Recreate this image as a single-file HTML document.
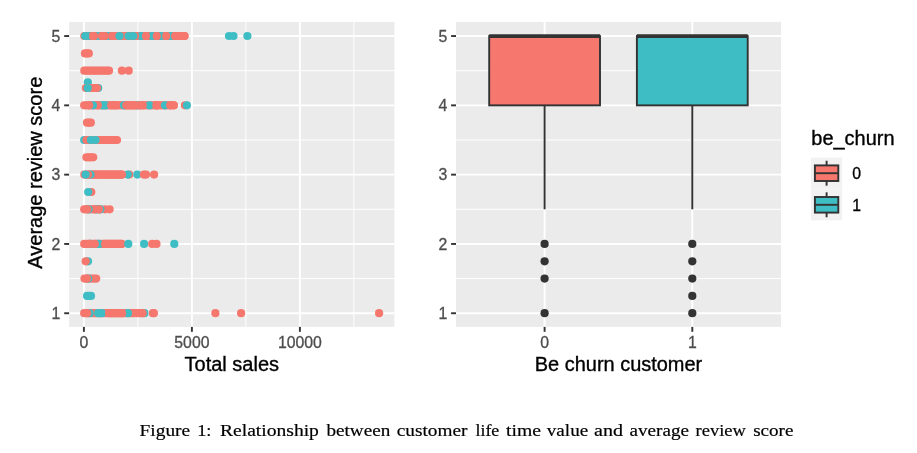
<!DOCTYPE html>
<html><head><meta charset="utf-8"><title>Figure 1</title>
<style>
html,body{margin:0;padding:0;background:#fff;}
svg{display:block}
text{font-family:"Liberation Sans",sans-serif;}
.tk{font-size:15.8px;fill:#4D4D4D;stroke:#4D4D4D;stroke-width:0.3px}
.ti{font-size:20px;fill:#000;stroke:#000;stroke-width:0.35px}
.lb{font-size:15.8px;fill:#000;stroke:#000;stroke-width:0.3px}
.cap{font-family:"Liberation Serif",serif;font-size:17.7px;fill:#000;stroke:#000;stroke-width:0.2px}
</style></head><body>
<svg width="917" height="453" viewBox="0 0 917 453">
<rect width="917" height="453" fill="#fff"/>
<g id="panel1">
<rect x="69.1" y="21.9" width="325.29999999999995" height="305.0" fill="#EBEBEB"/>
<line x1="69.1" x2="394.4" y1="278.60" y2="278.60" stroke="#fff" stroke-width="0.96"/>
<line x1="69.1" x2="394.4" y1="209.30" y2="209.30" stroke="#fff" stroke-width="0.96"/>
<line x1="69.1" x2="394.4" y1="140.00" y2="140.00" stroke="#fff" stroke-width="0.96"/>
<line x1="69.1" x2="394.4" y1="70.70" y2="70.70" stroke="#fff" stroke-width="0.96"/>
<line y1="21.9" y2="326.9" x1="137.9" x2="137.9" stroke="#fff" stroke-width="0.96"/>
<line y1="21.9" y2="326.9" x1="245.9" x2="245.9" stroke="#fff" stroke-width="0.96"/>
<line y1="21.9" y2="326.9" x1="353.9" x2="353.9" stroke="#fff" stroke-width="0.96"/>
<line x1="69.1" x2="394.4" y1="313.25" y2="313.25" stroke="#fff" stroke-width="1.92"/>
<line x1="69.1" x2="394.4" y1="243.95" y2="243.95" stroke="#fff" stroke-width="1.92"/>
<line x1="69.1" x2="394.4" y1="174.65" y2="174.65" stroke="#fff" stroke-width="1.92"/>
<line x1="69.1" x2="394.4" y1="105.35" y2="105.35" stroke="#fff" stroke-width="1.92"/>
<line x1="69.1" x2="394.4" y1="36.05" y2="36.05" stroke="#fff" stroke-width="1.92"/>
<line y1="21.9" y2="326.9" x1="83.9" x2="83.9" stroke="#fff" stroke-width="1.92"/>
<line y1="21.9" y2="326.9" x1="191.9" x2="191.9" stroke="#fff" stroke-width="1.92"/>
<line y1="21.9" y2="326.9" x1="299.9" x2="299.9" stroke="#fff" stroke-width="1.92"/>
<line x1="64.19999999999999" x2="69.1" y1="313.25" y2="313.25" stroke="#333" stroke-width="1.92"/>
<text x="60.3" y="318.95" text-anchor="end" class="tk">1</text>
<line x1="64.19999999999999" x2="69.1" y1="243.95" y2="243.95" stroke="#333" stroke-width="1.92"/>
<text x="60.3" y="249.65" text-anchor="end" class="tk">2</text>
<line x1="64.19999999999999" x2="69.1" y1="174.65" y2="174.65" stroke="#333" stroke-width="1.92"/>
<text x="60.3" y="180.35" text-anchor="end" class="tk">3</text>
<line x1="64.19999999999999" x2="69.1" y1="105.35" y2="105.35" stroke="#333" stroke-width="1.92"/>
<text x="60.3" y="111.05" text-anchor="end" class="tk">4</text>
<line x1="64.19999999999999" x2="69.1" y1="36.05" y2="36.05" stroke="#333" stroke-width="1.92"/>
<text x="60.3" y="41.75" text-anchor="end" class="tk">5</text>
<line y1="326.9" y2="331.79999999999995" x1="83.9" x2="83.9" stroke="#333" stroke-width="1.92"/>
<line y1="326.9" y2="331.79999999999995" x1="191.9" x2="191.9" stroke="#333" stroke-width="1.92"/>
<line y1="326.9" y2="331.79999999999995" x1="299.9" x2="299.9" stroke="#333" stroke-width="1.92"/>
<circle cx="84.3" cy="36.0" r="4.1" fill="#F5776D"/>
<circle cx="86.5" cy="36.0" r="4.1" fill="#F5776D"/>
<circle cx="88.7" cy="36.0" r="4.1" fill="#F5776D"/>
<circle cx="90.8" cy="36.0" r="4.1" fill="#F5776D"/>
<circle cx="93.0" cy="36.0" r="4.1" fill="#F5776D"/>
<circle cx="95.2" cy="36.0" r="4.1" fill="#F5776D"/>
<circle cx="97.4" cy="36.0" r="4.1" fill="#F5776D"/>
<circle cx="99.5" cy="36.0" r="4.1" fill="#F5776D"/>
<circle cx="101.7" cy="36.0" r="4.1" fill="#F5776D"/>
<circle cx="103.9" cy="36.0" r="4.1" fill="#F5776D"/>
<circle cx="106.1" cy="36.0" r="4.1" fill="#F5776D"/>
<circle cx="108.3" cy="36.0" r="4.1" fill="#F5776D"/>
<circle cx="110.4" cy="36.0" r="4.1" fill="#F5776D"/>
<circle cx="112.6" cy="36.0" r="4.1" fill="#F5776D"/>
<circle cx="114.8" cy="36.0" r="4.1" fill="#F5776D"/>
<circle cx="117.0" cy="36.0" r="4.1" fill="#F5776D"/>
<circle cx="119.2" cy="36.0" r="4.1" fill="#F5776D"/>
<circle cx="121.3" cy="36.0" r="4.1" fill="#F5776D"/>
<circle cx="123.5" cy="36.0" r="4.1" fill="#F5776D"/>
<circle cx="125.7" cy="36.0" r="4.1" fill="#F5776D"/>
<circle cx="127.9" cy="36.0" r="4.1" fill="#F5776D"/>
<circle cx="130.0" cy="36.0" r="4.1" fill="#F5776D"/>
<circle cx="132.2" cy="36.0" r="4.1" fill="#F5776D"/>
<circle cx="134.4" cy="36.0" r="4.1" fill="#F5776D"/>
<circle cx="136.6" cy="36.0" r="4.1" fill="#F5776D"/>
<circle cx="138.8" cy="36.0" r="4.1" fill="#F5776D"/>
<circle cx="140.9" cy="36.0" r="4.1" fill="#F5776D"/>
<circle cx="143.1" cy="36.0" r="4.1" fill="#F5776D"/>
<circle cx="145.3" cy="36.0" r="4.1" fill="#F5776D"/>
<circle cx="147.5" cy="36.0" r="4.1" fill="#F5776D"/>
<circle cx="149.6" cy="36.0" r="4.1" fill="#F5776D"/>
<circle cx="151.8" cy="36.0" r="4.1" fill="#F5776D"/>
<circle cx="154.0" cy="36.0" r="4.1" fill="#F5776D"/>
<circle cx="156.2" cy="36.0" r="4.1" fill="#F5776D"/>
<circle cx="158.4" cy="36.0" r="4.1" fill="#F5776D"/>
<circle cx="160.5" cy="36.0" r="4.1" fill="#F5776D"/>
<circle cx="162.7" cy="36.0" r="4.1" fill="#F5776D"/>
<circle cx="164.9" cy="36.0" r="4.1" fill="#F5776D"/>
<circle cx="167.1" cy="36.0" r="4.1" fill="#F5776D"/>
<circle cx="169.3" cy="36.0" r="4.1" fill="#F5776D"/>
<circle cx="171.4" cy="36.0" r="4.1" fill="#F5776D"/>
<circle cx="173.6" cy="36.0" r="4.1" fill="#F5776D"/>
<circle cx="175.8" cy="36.0" r="4.1" fill="#F5776D"/>
<circle cx="178.0" cy="36.0" r="4.1" fill="#F5776D"/>
<circle cx="180.1" cy="36.0" r="4.1" fill="#F5776D"/>
<circle cx="182.3" cy="36.0" r="4.1" fill="#F5776D"/>
<circle cx="184.5" cy="36.0" r="4.1" fill="#F5776D"/>
<circle cx="98.0" cy="36.0" r="4.1" fill="#3EBEC4"/>
<circle cx="108.4" cy="36.0" r="4.1" fill="#3EBEC4"/>
<circle cx="152.0" cy="36.0" r="4.1" fill="#3EBEC4"/>
<circle cx="161.0" cy="36.0" r="4.1" fill="#3EBEC4"/>
<circle cx="170.5" cy="36.0" r="4.1" fill="#3EBEC4"/>
<circle cx="141.0" cy="36.0" r="4.1" fill="#3EBEC4"/>
<circle cx="94.0" cy="36.0" r="4.1" fill="#F5776D"/>
<circle cx="102.0" cy="36.0" r="4.1" fill="#F5776D"/>
<circle cx="104.5" cy="36.0" r="4.1" fill="#F5776D"/>
<circle cx="112.0" cy="36.0" r="4.1" fill="#F5776D"/>
<circle cx="135.0" cy="36.0" r="4.1" fill="#F5776D"/>
<circle cx="156.8" cy="36.0" r="4.1" fill="#F5776D"/>
<circle cx="166.2" cy="36.0" r="4.1" fill="#F5776D"/>
<circle cx="175.1" cy="36.0" r="4.1" fill="#F5776D"/>
<circle cx="179.7" cy="36.0" r="4.1" fill="#F5776D"/>
<circle cx="184.5" cy="36.0" r="4.1" fill="#F5776D"/>
<circle cx="89.5" cy="36.0" r="4.1" fill="#3EBEC4"/>
<circle cx="92.5" cy="36.0" r="4.1" fill="#F5776D"/>
<circle cx="85.2" cy="36.0" r="4.1" fill="#3EBEC4"/>
<circle cx="119.5" cy="36.0" r="4.1" fill="#3EBEC4"/>
<circle cx="128.7" cy="36.0" r="4.1" fill="#3EBEC4"/>
<circle cx="133.2" cy="36.0" r="4.1" fill="#3EBEC4"/>
<circle cx="146.0" cy="36.0" r="4.1" fill="#F5776D"/>
<circle cx="229.0" cy="36.0" r="4.1" fill="#3EBEC4"/>
<circle cx="233.5" cy="36.0" r="4.1" fill="#3EBEC4"/>
<circle cx="247.4" cy="36.0" r="4.1" fill="#3EBEC4"/>
<circle cx="85.0" cy="53.4" r="4.1" fill="#F5776D"/>
<circle cx="86.9" cy="53.4" r="4.1" fill="#F5776D"/>
<circle cx="88.8" cy="53.4" r="4.1" fill="#F5776D"/>
<circle cx="84.3" cy="70.7" r="4.1" fill="#F5776D"/>
<circle cx="86.5" cy="70.7" r="4.1" fill="#F5776D"/>
<circle cx="88.8" cy="70.7" r="4.1" fill="#F5776D"/>
<circle cx="91.0" cy="70.7" r="4.1" fill="#F5776D"/>
<circle cx="93.3" cy="70.7" r="4.1" fill="#F5776D"/>
<circle cx="95.5" cy="70.7" r="4.1" fill="#F5776D"/>
<circle cx="97.8" cy="70.7" r="4.1" fill="#F5776D"/>
<circle cx="100.0" cy="70.7" r="4.1" fill="#F5776D"/>
<circle cx="102.3" cy="70.7" r="4.1" fill="#F5776D"/>
<circle cx="104.5" cy="70.7" r="4.1" fill="#F5776D"/>
<circle cx="106.8" cy="70.7" r="4.1" fill="#F5776D"/>
<circle cx="109.0" cy="70.7" r="4.1" fill="#F5776D"/>
<circle cx="121.9" cy="70.7" r="4.1" fill="#F5776D"/>
<circle cx="128.7" cy="70.7" r="4.1" fill="#F5776D"/>
<circle cx="87.8" cy="82.3" r="4.1" fill="#3EBEC4"/>
<circle cx="98.2" cy="88.0" r="4.1" fill="#3EBEC4"/>
<circle cx="85.9" cy="88.0" r="4.1" fill="#F5776D"/>
<circle cx="88.1" cy="88.0" r="4.1" fill="#F5776D"/>
<circle cx="90.3" cy="88.0" r="4.1" fill="#F5776D"/>
<circle cx="92.6" cy="88.0" r="4.1" fill="#F5776D"/>
<circle cx="94.8" cy="88.0" r="4.1" fill="#F5776D"/>
<circle cx="97.0" cy="88.0" r="4.1" fill="#F5776D"/>
<circle cx="87.7" cy="88.0" r="4.1" fill="#3EBEC4"/>
<circle cx="84.2" cy="105.3" r="4.1" fill="#F5776D"/>
<circle cx="86.4" cy="105.3" r="4.1" fill="#F5776D"/>
<circle cx="88.6" cy="105.3" r="4.1" fill="#F5776D"/>
<circle cx="90.8" cy="105.3" r="4.1" fill="#F5776D"/>
<circle cx="92.9" cy="105.3" r="4.1" fill="#F5776D"/>
<circle cx="95.1" cy="105.3" r="4.1" fill="#F5776D"/>
<circle cx="97.3" cy="105.3" r="4.1" fill="#F5776D"/>
<circle cx="99.5" cy="105.3" r="4.1" fill="#F5776D"/>
<circle cx="101.7" cy="105.3" r="4.1" fill="#F5776D"/>
<circle cx="103.9" cy="105.3" r="4.1" fill="#F5776D"/>
<circle cx="106.1" cy="105.3" r="4.1" fill="#F5776D"/>
<circle cx="108.2" cy="105.3" r="4.1" fill="#F5776D"/>
<circle cx="110.4" cy="105.3" r="4.1" fill="#F5776D"/>
<circle cx="112.6" cy="105.3" r="4.1" fill="#F5776D"/>
<circle cx="114.8" cy="105.3" r="4.1" fill="#F5776D"/>
<circle cx="117.0" cy="105.3" r="4.1" fill="#F5776D"/>
<circle cx="119.2" cy="105.3" r="4.1" fill="#F5776D"/>
<circle cx="121.4" cy="105.3" r="4.1" fill="#F5776D"/>
<circle cx="123.5" cy="105.3" r="4.1" fill="#F5776D"/>
<circle cx="125.7" cy="105.3" r="4.1" fill="#F5776D"/>
<circle cx="127.9" cy="105.3" r="4.1" fill="#F5776D"/>
<circle cx="130.1" cy="105.3" r="4.1" fill="#F5776D"/>
<circle cx="132.3" cy="105.3" r="4.1" fill="#F5776D"/>
<circle cx="134.5" cy="105.3" r="4.1" fill="#F5776D"/>
<circle cx="136.6" cy="105.3" r="4.1" fill="#F5776D"/>
<circle cx="138.8" cy="105.3" r="4.1" fill="#F5776D"/>
<circle cx="141.0" cy="105.3" r="4.1" fill="#F5776D"/>
<circle cx="143.2" cy="105.3" r="4.1" fill="#F5776D"/>
<circle cx="145.4" cy="105.3" r="4.1" fill="#F5776D"/>
<circle cx="147.6" cy="105.3" r="4.1" fill="#F5776D"/>
<circle cx="149.8" cy="105.3" r="4.1" fill="#F5776D"/>
<circle cx="151.9" cy="105.3" r="4.1" fill="#F5776D"/>
<circle cx="154.1" cy="105.3" r="4.1" fill="#F5776D"/>
<circle cx="156.3" cy="105.3" r="4.1" fill="#F5776D"/>
<circle cx="158.5" cy="105.3" r="4.1" fill="#F5776D"/>
<circle cx="160.7" cy="105.3" r="4.1" fill="#F5776D"/>
<circle cx="162.9" cy="105.3" r="4.1" fill="#F5776D"/>
<circle cx="165.1" cy="105.3" r="4.1" fill="#F5776D"/>
<circle cx="167.2" cy="105.3" r="4.1" fill="#F5776D"/>
<circle cx="169.4" cy="105.3" r="4.1" fill="#F5776D"/>
<circle cx="171.6" cy="105.3" r="4.1" fill="#F5776D"/>
<circle cx="173.8" cy="105.3" r="4.1" fill="#F5776D"/>
<circle cx="102.0" cy="105.3" r="4.1" fill="#3EBEC4"/>
<circle cx="104.0" cy="105.3" r="4.1" fill="#3EBEC4"/>
<circle cx="106.0" cy="105.3" r="4.1" fill="#3EBEC4"/>
<circle cx="97.8" cy="105.3" r="4.1" fill="#F5776D"/>
<circle cx="92.9" cy="105.3" r="4.1" fill="#3EBEC4"/>
<circle cx="89.1" cy="105.3" r="4.1" fill="#F5776D"/>
<circle cx="111.2" cy="105.3" r="4.1" fill="#F5776D"/>
<circle cx="113.8" cy="105.3" r="4.1" fill="#F5776D"/>
<circle cx="116.4" cy="105.3" r="4.1" fill="#F5776D"/>
<circle cx="124.0" cy="105.3" r="4.1" fill="#3EBEC4"/>
<circle cx="149.5" cy="105.3" r="4.1" fill="#3EBEC4"/>
<circle cx="137.3" cy="105.3" r="4.1" fill="#3EBEC4"/>
<circle cx="126.3" cy="105.3" r="4.1" fill="#F5776D"/>
<circle cx="128.5" cy="105.3" r="4.1" fill="#F5776D"/>
<circle cx="130.8" cy="105.3" r="4.1" fill="#F5776D"/>
<circle cx="133.0" cy="105.3" r="4.1" fill="#F5776D"/>
<circle cx="135.2" cy="105.3" r="4.1" fill="#F5776D"/>
<circle cx="139.5" cy="105.3" r="4.1" fill="#F5776D"/>
<circle cx="142.7" cy="105.3" r="4.1" fill="#F5776D"/>
<circle cx="156.4" cy="105.3" r="4.1" fill="#F5776D"/>
<circle cx="157.4" cy="105.3" r="4.1" fill="#F5776D"/>
<circle cx="165.0" cy="105.3" r="4.1" fill="#3EBEC4"/>
<circle cx="170.2" cy="105.3" r="4.1" fill="#F5776D"/>
<circle cx="173.8" cy="105.3" r="4.1" fill="#F5776D"/>
<circle cx="184.9" cy="105.3" r="4.1" fill="#F5776D"/>
<circle cx="186.9" cy="105.3" r="4.1" fill="#3EBEC4"/>
<circle cx="87.0" cy="122.7" r="4.1" fill="#F5776D"/>
<circle cx="88.9" cy="122.7" r="4.1" fill="#F5776D"/>
<circle cx="90.8" cy="122.7" r="4.1" fill="#F5776D"/>
<circle cx="84.2" cy="140.0" r="4.1" fill="#3EBEC4"/>
<circle cx="86.5" cy="140.0" r="4.1" fill="#F5776D"/>
<circle cx="88.7" cy="140.0" r="4.1" fill="#F5776D"/>
<circle cx="90.9" cy="140.0" r="4.1" fill="#F5776D"/>
<circle cx="93.0" cy="140.0" r="4.1" fill="#F5776D"/>
<circle cx="95.2" cy="140.0" r="4.1" fill="#F5776D"/>
<circle cx="97.4" cy="140.0" r="4.1" fill="#F5776D"/>
<circle cx="99.6" cy="140.0" r="4.1" fill="#F5776D"/>
<circle cx="101.8" cy="140.0" r="4.1" fill="#F5776D"/>
<circle cx="103.9" cy="140.0" r="4.1" fill="#F5776D"/>
<circle cx="106.1" cy="140.0" r="4.1" fill="#F5776D"/>
<circle cx="108.3" cy="140.0" r="4.1" fill="#F5776D"/>
<circle cx="110.5" cy="140.0" r="4.1" fill="#F5776D"/>
<circle cx="112.6" cy="140.0" r="4.1" fill="#F5776D"/>
<circle cx="114.8" cy="140.0" r="4.1" fill="#F5776D"/>
<circle cx="117.0" cy="140.0" r="4.1" fill="#F5776D"/>
<circle cx="90.9" cy="140.0" r="4.1" fill="#3EBEC4"/>
<circle cx="95.5" cy="140.0" r="4.1" fill="#3EBEC4"/>
<circle cx="86.4" cy="157.3" r="4.1" fill="#F5776D"/>
<circle cx="88.7" cy="157.3" r="4.1" fill="#F5776D"/>
<circle cx="90.9" cy="157.3" r="4.1" fill="#F5776D"/>
<circle cx="93.2" cy="157.3" r="4.1" fill="#F5776D"/>
<circle cx="84.3" cy="174.6" r="4.1" fill="#F5776D"/>
<circle cx="86.5" cy="174.6" r="4.1" fill="#F5776D"/>
<circle cx="88.7" cy="174.6" r="4.1" fill="#F5776D"/>
<circle cx="91.0" cy="174.6" r="4.1" fill="#F5776D"/>
<circle cx="93.2" cy="174.6" r="4.1" fill="#F5776D"/>
<circle cx="95.4" cy="174.6" r="4.1" fill="#F5776D"/>
<circle cx="97.6" cy="174.6" r="4.1" fill="#F5776D"/>
<circle cx="99.8" cy="174.6" r="4.1" fill="#F5776D"/>
<circle cx="102.0" cy="174.6" r="4.1" fill="#F5776D"/>
<circle cx="104.3" cy="174.6" r="4.1" fill="#F5776D"/>
<circle cx="106.5" cy="174.6" r="4.1" fill="#F5776D"/>
<circle cx="108.7" cy="174.6" r="4.1" fill="#F5776D"/>
<circle cx="110.9" cy="174.6" r="4.1" fill="#F5776D"/>
<circle cx="113.1" cy="174.6" r="4.1" fill="#F5776D"/>
<circle cx="115.3" cy="174.6" r="4.1" fill="#F5776D"/>
<circle cx="117.6" cy="174.6" r="4.1" fill="#F5776D"/>
<circle cx="119.8" cy="174.6" r="4.1" fill="#F5776D"/>
<circle cx="122.0" cy="174.6" r="4.1" fill="#F5776D"/>
<circle cx="129.3" cy="174.6" r="4.1" fill="#F5776D"/>
<circle cx="127.7" cy="174.6" r="4.1" fill="#3EBEC4"/>
<circle cx="93.0" cy="174.6" r="4.1" fill="#F5776D"/>
<circle cx="95.2" cy="174.6" r="4.1" fill="#F5776D"/>
<circle cx="97.5" cy="174.6" r="4.1" fill="#F5776D"/>
<circle cx="99.7" cy="174.6" r="4.1" fill="#F5776D"/>
<circle cx="101.9" cy="174.6" r="4.1" fill="#F5776D"/>
<circle cx="104.2" cy="174.6" r="4.1" fill="#F5776D"/>
<circle cx="106.4" cy="174.6" r="4.1" fill="#F5776D"/>
<circle cx="108.6" cy="174.6" r="4.1" fill="#F5776D"/>
<circle cx="110.8" cy="174.6" r="4.1" fill="#F5776D"/>
<circle cx="113.1" cy="174.6" r="4.1" fill="#F5776D"/>
<circle cx="115.3" cy="174.6" r="4.1" fill="#F5776D"/>
<circle cx="117.5" cy="174.6" r="4.1" fill="#F5776D"/>
<circle cx="119.8" cy="174.6" r="4.1" fill="#F5776D"/>
<circle cx="122.0" cy="174.6" r="4.1" fill="#F5776D"/>
<circle cx="90.4" cy="174.6" r="4.1" fill="#3EBEC4"/>
<circle cx="88.1" cy="174.6" r="4.1" fill="#F5776D"/>
<circle cx="85.6" cy="174.6" r="4.1" fill="#3EBEC4"/>
<circle cx="137.3" cy="174.6" r="4.1" fill="#3EBEC4"/>
<circle cx="143.9" cy="174.6" r="4.1" fill="#F5776D"/>
<circle cx="146.0" cy="174.6" r="4.1" fill="#F5776D"/>
<circle cx="154.1" cy="174.6" r="4.1" fill="#F5776D"/>
<circle cx="91.3" cy="192.0" r="4.1" fill="#F5776D"/>
<circle cx="88.2" cy="192.0" r="4.1" fill="#3EBEC4"/>
<circle cx="84.2" cy="209.3" r="4.1" fill="#F5776D"/>
<circle cx="86.5" cy="209.3" r="4.1" fill="#F5776D"/>
<circle cx="88.8" cy="209.3" r="4.1" fill="#F5776D"/>
<circle cx="91.1" cy="209.3" r="4.1" fill="#F5776D"/>
<circle cx="93.4" cy="209.3" r="4.1" fill="#F5776D"/>
<circle cx="95.7" cy="209.3" r="4.1" fill="#F5776D"/>
<circle cx="98.0" cy="209.3" r="4.1" fill="#F5776D"/>
<circle cx="100.3" cy="209.3" r="4.1" fill="#F5776D"/>
<circle cx="104.9" cy="209.3" r="4.1" fill="#F5776D"/>
<circle cx="109.6" cy="209.3" r="4.1" fill="#F5776D"/>
<circle cx="100.3" cy="209.3" r="4.1" fill="#3EBEC4"/>
<circle cx="96.7" cy="209.3" r="4.1" fill="#3EBEC4"/>
<circle cx="94.5" cy="209.3" r="4.1" fill="#F5776D"/>
<circle cx="98.9" cy="209.3" r="4.1" fill="#F5776D"/>
<circle cx="88.6" cy="209.3" r="4.1" fill="#3EBEC4"/>
<circle cx="87.3" cy="209.3" r="4.1" fill="#F5776D"/>
<circle cx="84.2" cy="243.9" r="4.1" fill="#F5776D"/>
<circle cx="86.4" cy="243.9" r="4.1" fill="#F5776D"/>
<circle cx="88.6" cy="243.9" r="4.1" fill="#F5776D"/>
<circle cx="90.8" cy="243.9" r="4.1" fill="#F5776D"/>
<circle cx="93.0" cy="243.9" r="4.1" fill="#F5776D"/>
<circle cx="95.2" cy="243.9" r="4.1" fill="#F5776D"/>
<circle cx="97.4" cy="243.9" r="4.1" fill="#F5776D"/>
<circle cx="99.6" cy="243.9" r="4.1" fill="#F5776D"/>
<circle cx="101.8" cy="243.9" r="4.1" fill="#F5776D"/>
<circle cx="103.9" cy="243.9" r="4.1" fill="#F5776D"/>
<circle cx="106.1" cy="243.9" r="4.1" fill="#F5776D"/>
<circle cx="108.3" cy="243.9" r="4.1" fill="#F5776D"/>
<circle cx="110.5" cy="243.9" r="4.1" fill="#F5776D"/>
<circle cx="112.7" cy="243.9" r="4.1" fill="#F5776D"/>
<circle cx="114.9" cy="243.9" r="4.1" fill="#F5776D"/>
<circle cx="117.1" cy="243.9" r="4.1" fill="#F5776D"/>
<circle cx="119.3" cy="243.9" r="4.1" fill="#F5776D"/>
<circle cx="121.5" cy="243.9" r="4.1" fill="#F5776D"/>
<circle cx="97.5" cy="243.9" r="4.1" fill="#3EBEC4"/>
<circle cx="99.0" cy="243.9" r="4.1" fill="#3EBEC4"/>
<circle cx="90.3" cy="243.9" r="4.1" fill="#3EBEC4"/>
<circle cx="89.6" cy="243.9" r="4.1" fill="#F5776D"/>
<circle cx="94.8" cy="243.9" r="4.1" fill="#F5776D"/>
<circle cx="105.1" cy="243.9" r="4.1" fill="#F5776D"/>
<circle cx="107.4" cy="243.9" r="4.1" fill="#F5776D"/>
<circle cx="109.8" cy="243.9" r="4.1" fill="#F5776D"/>
<circle cx="112.1" cy="243.9" r="4.1" fill="#F5776D"/>
<circle cx="114.5" cy="243.9" r="4.1" fill="#F5776D"/>
<circle cx="116.8" cy="243.9" r="4.1" fill="#F5776D"/>
<circle cx="119.2" cy="243.9" r="4.1" fill="#F5776D"/>
<circle cx="121.5" cy="243.9" r="4.1" fill="#F5776D"/>
<circle cx="128.3" cy="243.9" r="4.1" fill="#3EBEC4"/>
<circle cx="144.1" cy="243.9" r="4.1" fill="#3EBEC4"/>
<circle cx="152.2" cy="243.9" r="4.1" fill="#F5776D"/>
<circle cx="156.5" cy="243.9" r="4.1" fill="#F5776D"/>
<circle cx="174.3" cy="243.9" r="4.1" fill="#3EBEC4"/>
<circle cx="88.0" cy="261.3" r="4.1" fill="#3EBEC4"/>
<circle cx="85.7" cy="261.3" r="4.1" fill="#F5776D"/>
<circle cx="84.5" cy="278.6" r="4.1" fill="#F5776D"/>
<circle cx="86.8" cy="278.6" r="4.1" fill="#F5776D"/>
<circle cx="89.2" cy="278.6" r="4.1" fill="#F5776D"/>
<circle cx="91.5" cy="278.6" r="4.1" fill="#F5776D"/>
<circle cx="93.9" cy="278.6" r="4.1" fill="#F5776D"/>
<circle cx="96.2" cy="278.6" r="4.1" fill="#F5776D"/>
<circle cx="88.2" cy="278.6" r="4.1" fill="#3EBEC4"/>
<circle cx="87.0" cy="278.6" r="4.1" fill="#F5776D"/>
<circle cx="87.1" cy="295.9" r="4.1" fill="#3EBEC4"/>
<circle cx="89.0" cy="295.9" r="4.1" fill="#3EBEC4"/>
<circle cx="91.0" cy="295.9" r="4.1" fill="#3EBEC4"/>
<circle cx="84.2" cy="313.2" r="4.1" fill="#F5776D"/>
<circle cx="86.4" cy="313.2" r="4.1" fill="#F5776D"/>
<circle cx="88.5" cy="313.2" r="4.1" fill="#F5776D"/>
<circle cx="90.7" cy="313.2" r="4.1" fill="#F5776D"/>
<circle cx="92.9" cy="313.2" r="4.1" fill="#F5776D"/>
<circle cx="95.0" cy="313.2" r="4.1" fill="#F5776D"/>
<circle cx="97.2" cy="313.2" r="4.1" fill="#F5776D"/>
<circle cx="99.3" cy="313.2" r="4.1" fill="#F5776D"/>
<circle cx="101.5" cy="313.2" r="4.1" fill="#F5776D"/>
<circle cx="103.7" cy="313.2" r="4.1" fill="#F5776D"/>
<circle cx="105.8" cy="313.2" r="4.1" fill="#F5776D"/>
<circle cx="108.0" cy="313.2" r="4.1" fill="#F5776D"/>
<circle cx="110.2" cy="313.2" r="4.1" fill="#F5776D"/>
<circle cx="112.3" cy="313.2" r="4.1" fill="#F5776D"/>
<circle cx="114.5" cy="313.2" r="4.1" fill="#F5776D"/>
<circle cx="116.6" cy="313.2" r="4.1" fill="#F5776D"/>
<circle cx="118.8" cy="313.2" r="4.1" fill="#F5776D"/>
<circle cx="121.0" cy="313.2" r="4.1" fill="#F5776D"/>
<circle cx="123.1" cy="313.2" r="4.1" fill="#F5776D"/>
<circle cx="125.3" cy="313.2" r="4.1" fill="#F5776D"/>
<circle cx="127.5" cy="313.2" r="4.1" fill="#F5776D"/>
<circle cx="129.6" cy="313.2" r="4.1" fill="#F5776D"/>
<circle cx="131.8" cy="313.2" r="4.1" fill="#F5776D"/>
<circle cx="133.9" cy="313.2" r="4.1" fill="#F5776D"/>
<circle cx="136.1" cy="313.2" r="4.1" fill="#F5776D"/>
<circle cx="138.3" cy="313.2" r="4.1" fill="#F5776D"/>
<circle cx="140.4" cy="313.2" r="4.1" fill="#F5776D"/>
<circle cx="142.6" cy="313.2" r="4.1" fill="#F5776D"/>
<circle cx="98.3" cy="313.2" r="4.1" fill="#3EBEC4"/>
<circle cx="100.0" cy="313.2" r="4.1" fill="#3EBEC4"/>
<circle cx="102.0" cy="313.2" r="4.1" fill="#3EBEC4"/>
<circle cx="109.1" cy="313.2" r="4.1" fill="#F5776D"/>
<circle cx="111.2" cy="313.2" r="4.1" fill="#F5776D"/>
<circle cx="113.4" cy="313.2" r="4.1" fill="#F5776D"/>
<circle cx="115.5" cy="313.2" r="4.1" fill="#F5776D"/>
<circle cx="117.7" cy="313.2" r="4.1" fill="#F5776D"/>
<circle cx="119.8" cy="313.2" r="4.1" fill="#F5776D"/>
<circle cx="122.0" cy="313.2" r="4.1" fill="#F5776D"/>
<circle cx="89.6" cy="313.2" r="4.1" fill="#3EBEC4"/>
<circle cx="87.1" cy="313.2" r="4.1" fill="#F5776D"/>
<circle cx="127.9" cy="313.2" r="4.1" fill="#3EBEC4"/>
<circle cx="122.0" cy="313.2" r="4.1" fill="#F5776D"/>
<circle cx="144.4" cy="313.2" r="4.1" fill="#3EBEC4"/>
<circle cx="142.6" cy="313.2" r="4.1" fill="#F5776D"/>
<circle cx="152.9" cy="313.2" r="4.1" fill="#F5776D"/>
<circle cx="153.9" cy="313.2" r="4.1" fill="#F5776D"/>
<circle cx="215.4" cy="313.2" r="4.1" fill="#F5776D"/>
<circle cx="241.1" cy="313.2" r="4.1" fill="#F5776D"/>
<circle cx="379.1" cy="313.2" r="4.1" fill="#F5776D"/>
<text x="83.9" y="348.2" text-anchor="middle" class="tk">0</text><text x="191.9" y="348.2" text-anchor="middle" class="tk">5000</text><text x="299.9" y="348.2" text-anchor="middle" class="tk">10000</text>
<text x="231.8" y="371.1" text-anchor="middle" class="ti">Total sales</text>
<text transform="translate(41.6,172.7) rotate(-90)" text-anchor="middle" class="ti">Average review score</text>
</g>
<g id="panel2">
<rect x="456.0" y="21.9" width="325.0" height="305.0" fill="#EBEBEB"/>
<line x1="456.0" x2="781.0" y1="278.60" y2="278.60" stroke="#fff" stroke-width="0.96"/>
<line x1="456.0" x2="781.0" y1="209.30" y2="209.30" stroke="#fff" stroke-width="0.96"/>
<line x1="456.0" x2="781.0" y1="140.00" y2="140.00" stroke="#fff" stroke-width="0.96"/>
<line x1="456.0" x2="781.0" y1="70.70" y2="70.70" stroke="#fff" stroke-width="0.96"/>
<line x1="456.0" x2="781.0" y1="313.25" y2="313.25" stroke="#fff" stroke-width="1.92"/>
<line x1="456.0" x2="781.0" y1="243.95" y2="243.95" stroke="#fff" stroke-width="1.92"/>
<line x1="456.0" x2="781.0" y1="174.65" y2="174.65" stroke="#fff" stroke-width="1.92"/>
<line x1="456.0" x2="781.0" y1="105.35" y2="105.35" stroke="#fff" stroke-width="1.92"/>
<line x1="456.0" x2="781.0" y1="36.05" y2="36.05" stroke="#fff" stroke-width="1.92"/>
<line y1="21.9" y2="326.9" x1="544.6" x2="544.6" stroke="#fff" stroke-width="1.92"/>
<line y1="21.9" y2="326.9" x1="692.3" x2="692.3" stroke="#fff" stroke-width="1.92"/>
<line x1="451.1" x2="456.0" y1="313.25" y2="313.25" stroke="#333" stroke-width="1.92"/>
<text x="447.2" y="318.95" text-anchor="end" class="tk">1</text>
<line x1="451.1" x2="456.0" y1="243.95" y2="243.95" stroke="#333" stroke-width="1.92"/>
<text x="447.2" y="249.65" text-anchor="end" class="tk">2</text>
<line x1="451.1" x2="456.0" y1="174.65" y2="174.65" stroke="#333" stroke-width="1.92"/>
<text x="447.2" y="180.35" text-anchor="end" class="tk">3</text>
<line x1="451.1" x2="456.0" y1="105.35" y2="105.35" stroke="#333" stroke-width="1.92"/>
<text x="447.2" y="111.05" text-anchor="end" class="tk">4</text>
<line x1="451.1" x2="456.0" y1="36.05" y2="36.05" stroke="#333" stroke-width="1.92"/>
<text x="447.2" y="41.75" text-anchor="end" class="tk">5</text>
<line y1="326.9" y2="331.79999999999995" x1="544.6" x2="544.6" stroke="#333" stroke-width="1.92"/>
<line y1="326.9" y2="331.79999999999995" x1="692.3" x2="692.3" stroke="#333" stroke-width="1.92"/>
<line x1="544.6" x2="544.6" y1="105.35" y2="209.30" stroke="#333" stroke-width="1.92"/>
<rect x="489.20" y="36.05" width="110.8" height="69.30" fill="#F5776D" stroke="#333" stroke-width="1.92" stroke-linejoin="miter"/>
<line x1="489.20" x2="600.00" y1="36.05" y2="36.05" stroke="#333" stroke-width="3.84"/>
<circle cx="544.6" cy="243.9" r="4.1" fill="#333"/>
<circle cx="544.6" cy="261.3" r="4.1" fill="#333"/>
<circle cx="544.6" cy="278.6" r="4.1" fill="#333"/>
<circle cx="544.6" cy="313.2" r="4.1" fill="#333"/><line x1="692.3" x2="692.3" y1="105.35" y2="209.30" stroke="#333" stroke-width="1.92"/>
<rect x="636.90" y="36.05" width="110.8" height="69.30" fill="#3EBEC4" stroke="#333" stroke-width="1.92" stroke-linejoin="miter"/>
<line x1="636.90" x2="747.70" y1="36.05" y2="36.05" stroke="#333" stroke-width="3.84"/>
<circle cx="692.3" cy="243.9" r="4.1" fill="#333"/>
<circle cx="692.3" cy="261.3" r="4.1" fill="#333"/>
<circle cx="692.3" cy="278.6" r="4.1" fill="#333"/>
<circle cx="692.3" cy="295.9" r="4.1" fill="#333"/>
<circle cx="692.3" cy="313.2" r="4.1" fill="#333"/>
<text x="544.6" y="348.2" text-anchor="middle" class="tk">0</text><text x="692.3" y="348.2" text-anchor="middle" class="tk">1</text>
<text x="618.5" y="371.1" text-anchor="middle" class="ti" textLength="167.5" lengthAdjust="spacingAndGlyphs">Be churn customer</text>
</g>
<g id="legend">
<rect x="811.0" y="157.6" width="31.2" height="31.2" fill="#F2F2F2"/>
<line x1="826.6" x2="826.6" y1="160.72" y2="165.40" stroke="#333" stroke-width="1.92"/>
<line x1="826.6" x2="826.6" y1="181.00" y2="185.68" stroke="#333" stroke-width="1.92"/>
<rect x="814.90" y="165.40" width="23.40" height="15.60" fill="#F5776D" stroke="#333" stroke-width="1.92"/>
<line x1="814.90" x2="838.30" y1="173.20" y2="173.20" stroke="#333" stroke-width="1.92"/><rect x="811.0" y="189.2" width="31.2" height="31.2" fill="#F2F2F2"/>
<line x1="826.6" x2="826.6" y1="192.32" y2="197.00" stroke="#333" stroke-width="1.92"/>
<line x1="826.6" x2="826.6" y1="212.60" y2="217.28" stroke="#333" stroke-width="1.92"/>
<rect x="814.90" y="197.00" width="23.40" height="15.60" fill="#3EBEC4" stroke="#333" stroke-width="1.92"/>
<line x1="814.90" x2="838.30" y1="204.80" y2="204.80" stroke="#333" stroke-width="1.92"/><text x="811.3" y="145.3" class="ti" textLength="83.2" lengthAdjust="spacingAndGlyphs">be_churn</text><text x="852.3" y="178.9" class="lb">0</text><text x="852.3" y="210.6" class="lb">1</text>
</g>
<text class="cap" x="139.6" y="435.5" textLength="50.5" lengthAdjust="spacingAndGlyphs">Figure</text><text class="cap" x="197.2" y="435.5" textLength="14.3" lengthAdjust="spacingAndGlyphs">1:</text><text class="cap" x="220.0" y="435.5" textLength="98.9" lengthAdjust="spacingAndGlyphs">Relationship</text><text class="cap" x="326.5" y="435.5" textLength="63.7" lengthAdjust="spacingAndGlyphs">between</text><text class="cap" x="396.8" y="435.5" textLength="70.6" lengthAdjust="spacingAndGlyphs">customer</text><text class="cap" x="475.5" y="435.5" textLength="23.8" lengthAdjust="spacingAndGlyphs">life</text><text class="cap" x="506.0" y="435.5" textLength="34.9" lengthAdjust="spacingAndGlyphs">time</text><text class="cap" x="546.8" y="435.5" textLength="41.4" lengthAdjust="spacingAndGlyphs">value</text><text class="cap" x="594.0" y="435.5" textLength="29.0" lengthAdjust="spacingAndGlyphs">and</text><text class="cap" x="629.6" y="435.5" textLength="59.3" lengthAdjust="spacingAndGlyphs">average</text><text class="cap" x="695.6" y="435.5" textLength="50.3" lengthAdjust="spacingAndGlyphs">review</text><text class="cap" x="753.2" y="435.5" textLength="40.2" lengthAdjust="spacingAndGlyphs">score</text>
</svg>
</body></html>
